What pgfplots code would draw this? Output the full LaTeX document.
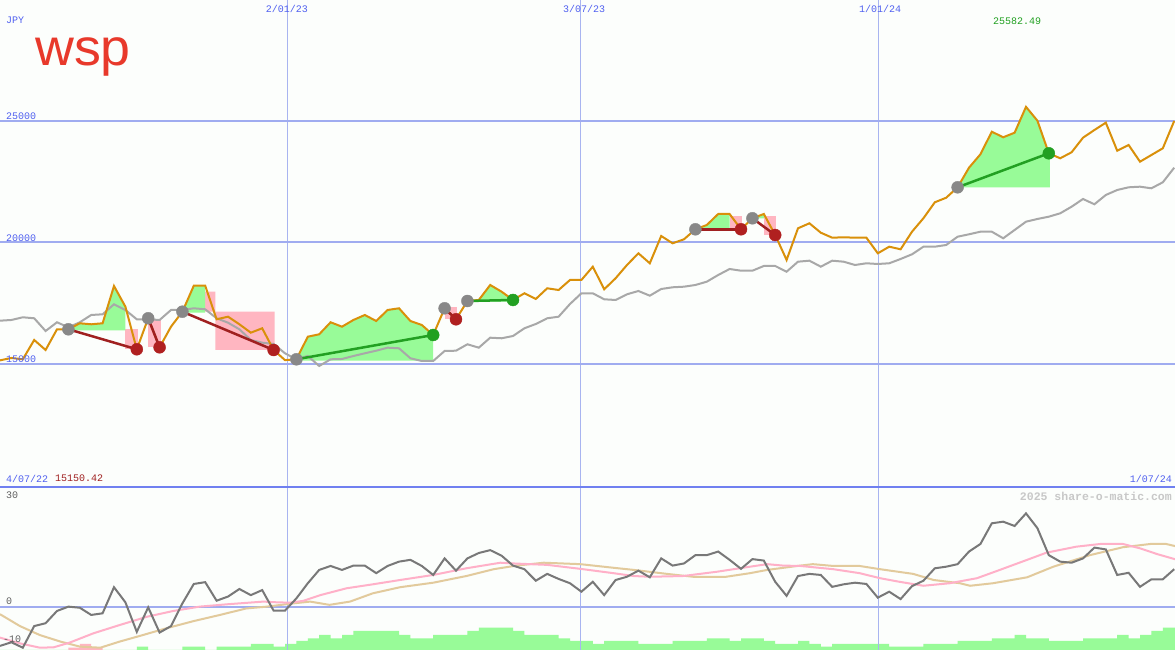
\documentclass[border=0pt]{standalone}
\usepackage{fontspec}
\setmainfont{Liberation Mono}
\newfontfamily\logofont{Liberation Sans}
\usepackage{pgfplots}
\pgfplotsset{compat=1.18}
\definecolor{bg}{HTML}{FCFEFC}
\definecolor{gridc}{HTML}{A0ACF0}
\definecolor{vgrid}{HTML}{A8B4F0}
\definecolor{borderc}{HTML}{7080F0}
\definecolor{lblue}{HTML}{5060F0}
\definecolor{pricec}{HTML}{D9900A}
\definecolor{mac}{HTML}{A8A8A8}
\definecolor{oscc}{HTML}{787878}
\definecolor{pinkl}{HTML}{FFB0C8}
\definecolor{tanl}{HTML}{E2CA9C}
\definecolor{gfill}{HTML}{98FB98}
\definecolor{pfill}{HTML}{FFB6C1}
\definecolor{mgray}{HTML}{888888}
\definecolor{mred}{HTML}{B02020}
\definecolor{mgreen}{HTML}{22A022}
\definecolor{tradered}{HTML}{A02020}
\definecolor{logored}{HTML}{E8392B}
\definecolor{lowred}{HTML}{A02020}
\definecolor{hiGreen}{HTML}{20A020}
\definecolor{labgray}{HTML}{606060}
\definecolor{wmark}{HTML}{C8C8C8}
\pgfplotsset{
  panel/.style={scale only axis, anchor=south west, width=1175pt,
    xmin=0, xmax=103.07, axis line style={draw=none}, major tick length=0pt,
    xticklabels={}, yticklabels={}, xtick={25.18,50.96,77.1},
    xmajorgrids=true, ymajorgrids=true,
    x grid style={vgrid, line width=1pt}, y grid style={gridc, line width=2pt}},
}
\begin{document}
\begin{tikzpicture}[x=1pt,y=1pt]
\fill[bg] (0,0) rectangle (1175,650);
\path[use as bounding box] (0,0) rectangle (1175,650);
% ---------------- main price panel
\begin{axis}[panel, at={(0pt,163pt)}, height=487pt,
  ymin=9938, ymax=29979, ytick={15000,20000,25000}]
% pink (loss) regions
\addplot[fill=pfill, draw=none] coordinates {(11,16428)(12.08,16428)(12.08,15605)(11,15605)};
\addplot[fill=pfill, draw=none] coordinates {(13,16811)(14.08,16811)(14.08,15687)(13,15687)};
\addplot[fill=pfill, draw=none] coordinates {(18,17975)(18.9,17975)(18.9,17152)(24.1,17152)(24.1,15576)(18.9,15576)(18.9,17152)(18,17152)};
\addplot[fill=pfill, draw=none] coordinates {(39,17330)(40.06,17330)(40.06,16839)(39,16839)};
\addplot[fill=pfill, draw=none] coordinates {(64,21070)(65.05,21070)(65.05,20543)(64,20543)};
\addplot[fill=pfill, draw=none] coordinates {(67,21070)(68.1,21070)(68.1,20308)(67,20308)};
% green (profit) regions
\addplot[fill=gfill, draw=none] coordinates {(6,16428)(7,16675)(8,16634)(9,16675)(10,18210)(11,17358)(11,16380)(6,16380)};
\addplot[fill=gfill, draw=none] coordinates {(16,17152)(17,18222)(18,18222)(18,17111)(16,17111)};
\addplot[fill=gfill, draw=none] coordinates {(26,15193)(27,16123)(28,16222)(29,16716)(30,16535)(31,16811)(32,17016)(33,16769)(34,17222)(35,17292)(36,16769)(37,16605)(38,16193)(38,15136)(26,15136)};
\addplot[fill=gfill, draw=none] coordinates {(41,17592)(42,17634)(43,18251)(44,17975)(45,17634)(45,17564)(41,17564)};
\addplot[fill=gfill, draw=none] coordinates {(61.2,20584)(62,20720)(63,21173)(64,21173)(64,20584)};
\addplot[fill=gfill, draw=none] coordinates {(66,20996)(67,21173)(67,20996)};
\addplot[fill=gfill, draw=none] coordinates {(84,22271)(85,23078)(86,23629)(87,24559)(88,24329)(89,24518)(90,25582)(91,25012)(92,23670)(92.1,23670)(92.1,22271)};
% moving average
\addplot[mac, line width=2pt] coordinates {
(0,16782)(1,16811)(2,16922)(3,16881)(4,16358)(5,16716)(6,16510)(7,16716)(8,17016)(9,17045)
(10,17457)(11,17222)(12,16839)(13,16839)(14,16811)(15,17222)(16,17222)(17,17292)(18,17251)(19,16881)
(20,16700)(21,16428)(22,15988)(23,15877)(24,15823)(25,15440)(26,15193)(27,15329)(28,14918)(29,15193)
(30,15206)(31,15329)(32,15440)(33,15547)(34,15671)(35,15646)(36,15235)(37,15123)(38,15123)(39,15535)
(40,15547)(41,15811)(42,15671)(43,16082)(44,16058)(45,16152)(46,16469)(47,16646)(48,16881)(49,16946)
(50,17469)(51,17909)(52,17909)(53,17662)(54,17634)(55,17868)(56,18004)(57,17811)(58,18086)(59,18156)
(60,18181)(61,18251)(62,18387)(63,18662)(64,18909)(65,18839)(66,18839)(67,19033)(68,19033)(69,18798)
(70,19210)(71,19251)(72,19004)(73,19251)(74,19210)(75,19074)(76,19144)(77,19115)(78,19144)(79,19321)
(80,19514)(81,19827)(82,19827)(83,19897)(84,20238)(85,20337)(86,20444)(87,20444)(88,20173)(89,20514)
(90,20856)(91,20967)(92,21062)(93,21201)(94,21473)(95,21790)(96,21572)(97,21955)(98,22160)(99,22271)
(100,22296)(101,22230)(102,22477)(103,23078)};
% price
\addplot[pricec, line width=2pt] coordinates {
(0,15150)(1,15247)(2,15193)(3,15988)(4,15576)(5,16428)(6,16428)(7,16675)(8,16634)(9,16675)
(10,18210)(11,17358)(12,15605)(13,16881)(14,15687)(15,16535)(16,17152)(17,18222)(18,18222)(19,16839)
(20,16946)(21,16634)(22,16288)(23,16469)(24,15576)(25,15160)(26,15193)(27,16123)(28,16222)(29,16716)
(30,16535)(31,16811)(32,17016)(33,16769)(34,17222)(35,17292)(36,16769)(37,16605)(38,16193)(39,17292)
(40,16839)(41,17592)(42,17634)(43,18251)(44,17975)(45,17634)(46,17909)(47,17675)(48,18115)(49,18045)
(50,18457)(51,18457)(52,19004)(53,18074)(54,18527)(55,19074)(56,19555)(57,19144)(58,20267)(59,19967)
(60,20132)(61,20543)(62,20720)(63,21173)(64,21173)(65,20543)(66,20996)(67,21173)(68,20308)(69,19280)
(70,20584)(71,20790)(72,20403)(73,20197)(74,20214)(75,20197)(76,20197)(77,19555)(78,19827)(79,19720)
(80,20444)(81,20996)(82,21654)(83,21843)(84,22271)(85,23078)(86,23629)(87,24559)(88,24329)(89,24518)
(90,25582)(91,25012)(92,23670)(93,23465)(94,23712)(95,24312)(96,24629)(97,24930)(98,23777)(99,24012)
(100,23325)(101,23600)(102,23876)(103,25000)};
% trade lines
\addplot[tradered, line width=2.5pt] coordinates {(6,16428)(12,15605)};
\addplot[tradered, line width=2.5pt] coordinates {(13,16881)(14,15687)};
\addplot[tradered, line width=2.5pt] coordinates {(16,17152)(24,15576)};
\addplot[tradered, line width=2.5pt] coordinates {(39,17292)(40,16839)};
\addplot[tradered, line width=2.5pt] coordinates {(61,20543)(65,20543)};
\addplot[tradered, line width=2.5pt] coordinates {(66,20996)(68,20308)};
\addplot[mgreen, line width=2.5pt] coordinates {(26,15193)(38,16193)};
\addplot[mgreen, line width=2.5pt] coordinates {(41,17592)(45,17634)};
\addplot[mgreen, line width=2.5pt] coordinates {(84,22271)(92,23670)};
% markers
\addplot[only marks, mark=*, mark size=6pt, mark options={fill=mgray, draw=mgray}] coordinates {
(6,16428)(13,16881)(16,17152)(26,15193)(39,17292)(41,17592)(61,20543)(66,20996)(84,22271)};
\addplot[only marks, mark=*, mark size=6pt, mark options={fill=mred, draw=mred}] coordinates {
(12,15605)(14,15687)(24,15576)(40,16839)(65,20543)(68,20308)};
\addplot[only marks, mark=*, mark size=6pt, mark options={fill=mgreen, draw=mgreen}] coordinates {
(38,16193)(45,17634)(92,23670)};
\end{axis}
% ---------------- bars of the lower panel
\begin{axis}[scale only axis, anchor=south west, at={(0pt,0pt)}, width=1175pt, height=163pt,
  xmin=0, xmax=103.07, ymin=0, ymax=163, hide axis]
\addplot[const plot, fill=gfill, draw=none] coordinates {
(0,0)(12,3.3)(13,0)(16,3.3)(18,0)(19,3.3)(22,6)(24,3.3)(25,6)(26,9)(27,11.7)(28,15)(29,11.7)(30,15)
(31,19)(35,15)(36,11.7)(38,15)(41,19)(42,22.3)(45,19)(46,15)(49,11.7)(50,9)(52,6)(53,9)(56,6)(59,9)
(62,11.7)(64,9)(65,11.7)(67,9)(68,6)(70,9)(71,6)(72,3.3)(73,6)(78,3.3)(81,6)(84,9)(87,11.7)(89,15)
(90,11.7)(92,9)(95,11.7)(98,15)(99,11.7)(100,15)(101,19)(102,22.3)(103.07,22.3)} \closedcycle;
\addplot[const plot, fill=pfill, draw=none] coordinates {(6,2.3)(7,6)(8,2.3)(9,2.3)} \closedcycle;
\end{axis}
% ---------------- lower oscillator panel
\begin{axis}[panel, at={(0pt,0pt)}, height=163pt,
  ymin=-11.94, ymax=33.33, ytick={0}]
\addplot[tanl, line width=2pt] coordinates {
(0,-2)(1.75,-5.3)(3.5,-7.8)(5.3,-9.6)(7,-11)(8.8,-11.3)(10.5,-9.6)(12.3,-8)(14.6,-5.9)(17,-3.9)
(19.3,-2.2)(21.6,-0.4)(23.4,0.1)(25.7,1.0)(27.2,1.5)(28.9,0.6)(30.7,1.5)(32.7,3.8)(35.1,5.5)(38,6.75)
(40.9,8.6)(43.3,10.5)(45.3,11.5)(47.7,12.3)(50.9,11.9)(53.8,10.9)(55.6,10.3)(58.5,9.2)(60.8,8.4)(63.7,8.4)
(65.8,9.4)(67.3,10.3)(70.2,11.5)(71.3,11.9)(73.1,11.4)(75.4,11.4)(77.2,10.5)(80.1,9.2)(81.9,7.5)(84.2,6.6)
(85.1,5.9)(87.1,6.6)(90.1,8.25)(92.4,11.2)(95.6,14.4)(98.5,16.6)(100.9,17.5)(102.3,17.5)(103.1,16.9)};
\addplot[pinkl, line width=2pt] coordinates {
(0,-8.5)(1.75,-10.1)(3.5,-11.3)(4.7,-11.2)(6.1,-9.9)(8.2,-7.3)(10.5,-5.0)(12.9,-2.7)(15.2,-1.1)(17.5,0.1)
(19.9,0.75)(23.1,1.5)(24.3,1.3)(25.4,1.2)(26.6,1.7)(28.1,3.3)(30.4,5.2)(32.7,6.3)(35.1,7.5)(38,8.9)
(40.9,10.75)(43.9,12.3)(45,12.1)(48,11.7)(50.9,10.6)(53.8,9.4)(55.6,8.6)(57,8.4)(59.9,8.6)(62.9,9.8)
(65.8,11.2)(67.3,11.9)(68.7,11.5)(70.2,11.4)(73.1,10.5)(75.4,9.4)(77.2,8.0)(78.9,7.0)(81,5.9)(83.3,6.6)
(85.7,8.0)(87.7,10.3)(90.1,13.1)(91.8,15.1)(94.4,16.75)(96.5,17.5)(98.5,17.5)(100,16.3)(101.5,14.7)(103.1,13.25)};
\addplot[oscc, line width=2pt] coordinates {
(0,-10.8)(1,-9.8)(2,-11.3)(3,-5.3)(4,-4.5)(5,-1.1)(6,0.1)(7,-0.2)(8,-2.2)(9,-1.75)
(10,5.5)(11,1.3)(12,-6.9)(13,-0.1)(14,-7.1)(15,-5.3)(16,1.0)(17,6.4)(18,6.9)(19,1.75)
(20,2.9)(21,5.0)(22,3.3)(23,4.7)(24,-1.0)(25,-1.0)(26,2.4)(27,6.6)(28,10.3)(29,11.4)
(30,10.3)(31,11.5)(32,11.5)(33,9.4)(34,11.4)(35,12.6)(36,13.1)(37,11.4)(38,8.9)(39,13.5)
(40,10.1)(41,13.5)(42,15.0)(43,15.8)(44,14.25)(45,11.5)(46,10.5)(47,7.3)(48,9.2)(49,7.8)
(50,6.6)(51,4.25)(52,7.0)(53,3.3)(54,7.5)(55,8.4)(56,10.1)(57,8.25)(58,13.5)(59,11.5)
(60,12.1)(61,14.4)(62,14.4)(63,15.4)(64,13.1)(65,10.6)(66,13.3)(67,12.9)(68,7.0)(69,3.1)
(70,8.6)(71,9.2)(72,8.9)(73,5.6)(74,6.3)(75,6.75)(76,6.4)(77,2.6)(78,4.25)(79,2.2)
(80,5.8)(81,7.3)(82,10.75)(83,11.2)(84,11.9)(85,15.4)(86,17.5)(87,23.25)(88,23.7)(89,22.5)
(90,26.0)(91,21.9)(92,14.4)(93,12.6)(94,12.3)(95,13.5)(96,16.5)(97,16.0)(98,8.9)(99,9.5)
(100,5.6)(101,7.7)(102,7.7)(103,10.5)};
\end{axis}
% panel separator
\draw[borderc, line width=2.5pt] (0,163) -- (1175,163);
% ---------------- texts
\node[anchor=base west, inner sep=0pt, text=logored, xscale=1.12, yscale=1.08] at (35,584) {\logofont\fontsize{48}{48}\selectfont wsp};
\begin{scope}[every node/.style={inner sep=0pt, font=\fontsize{10}{12}\selectfont}]
\node[anchor=west, text=lblue] at (6,630) {JPY};
\node[text=lblue] at (287,641) {2/01/23};
\node[text=lblue] at (584,641) {3/07/23};
\node[text=lblue] at (880,641) {1/01/24};
\node[text=hiGreen] at (1017,629) {25582.49};
\node[anchor=west, text=lblue] at (6,534) {25000};
\node[anchor=west, text=lblue] at (6,412) {20000};
\node[anchor=west, text=lblue] at (6,291) {15000};
\node[anchor=west, text=lblue] at (6,171.5) {4/07/22};
\node[anchor=west, text=lowred] at (55,171.5) {15150.42};
\node[anchor=east, text=lblue] at (1172,171.5) {1/07/24};
\node[anchor=west, text=labgray] at (6,154.5) {30};
\node[anchor=west, text=labgray] at (6,48.5) {0};
\node[anchor=west, text=labgray] at (3,11) {-10};
\node[anchor=east, text=wmark, font=\bfseries\fontsize{11.5}{12}\selectfont] at (1172,154) {2025 share-o-matic.com};
\end{scope}
\end{tikzpicture}
\end{document}
